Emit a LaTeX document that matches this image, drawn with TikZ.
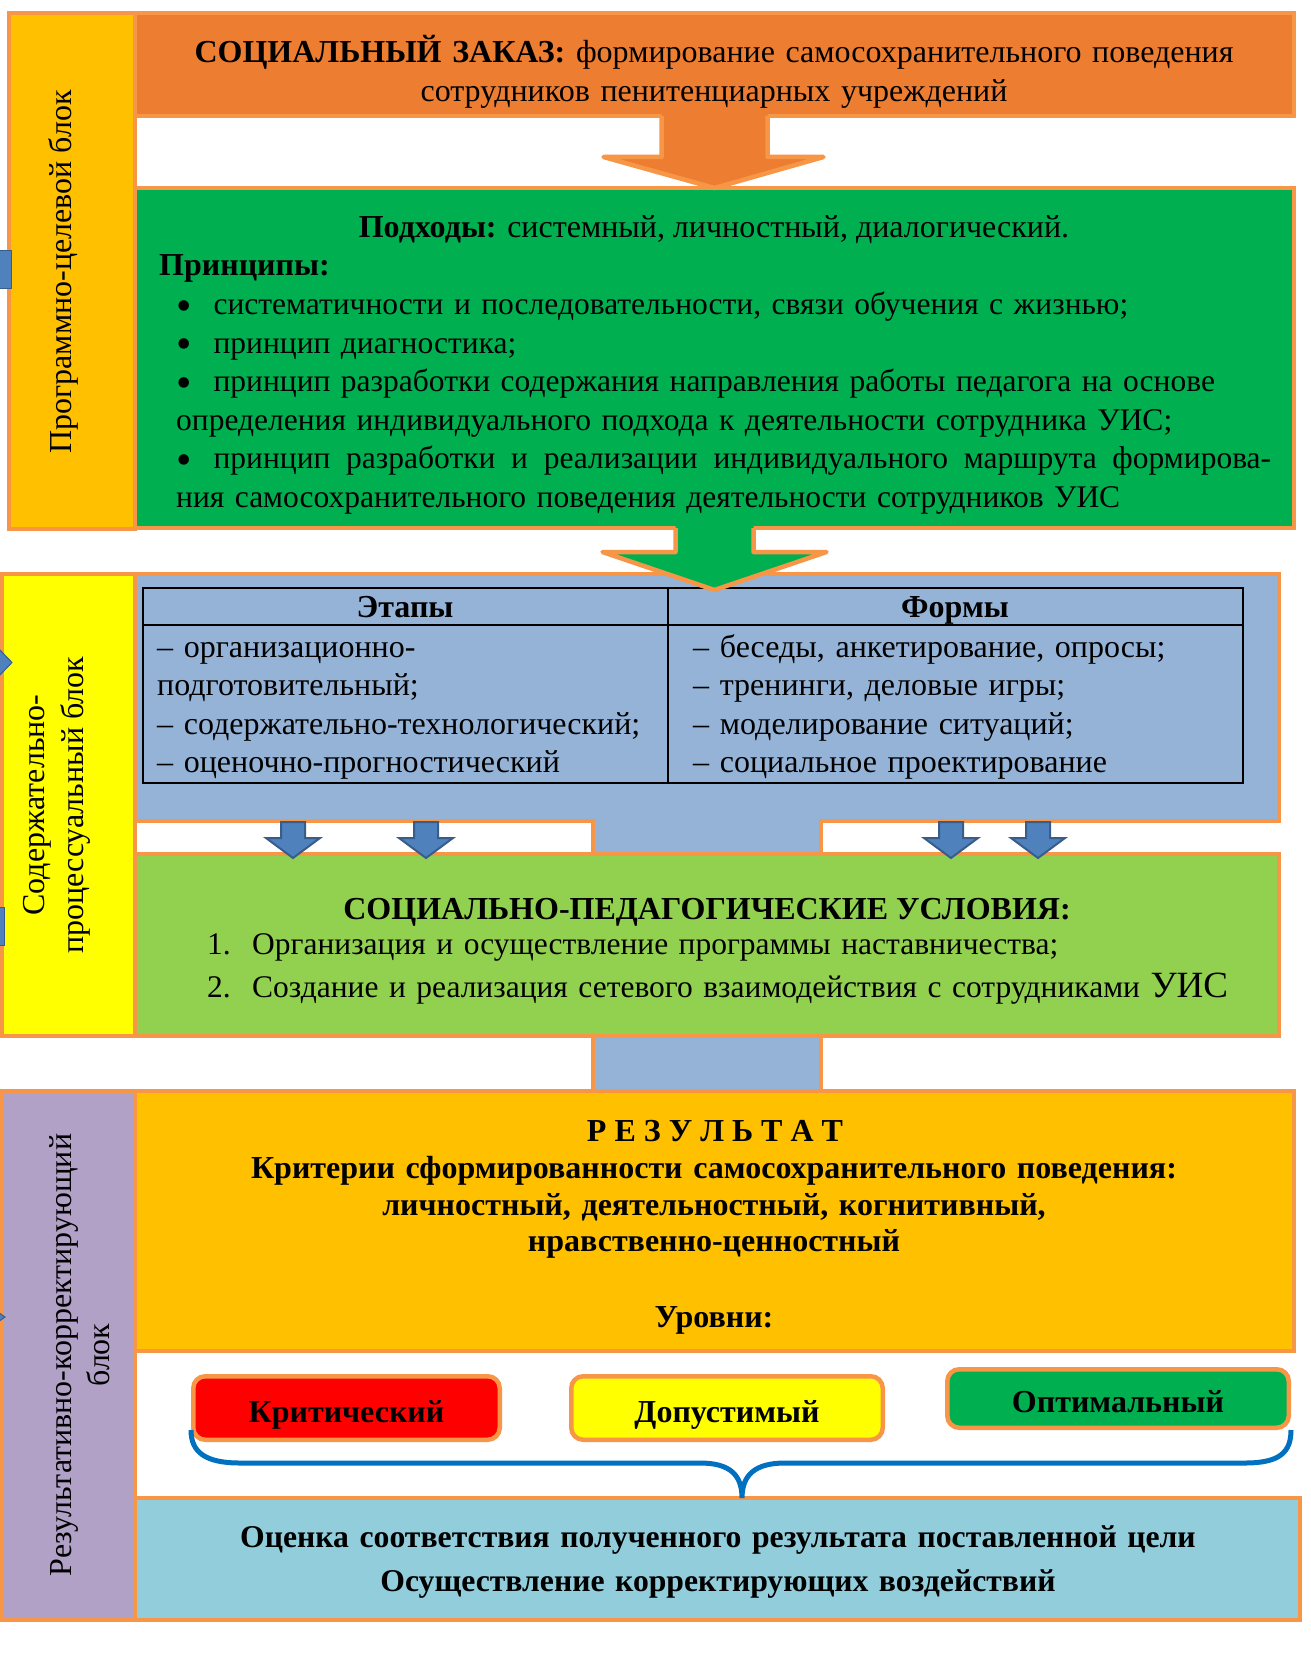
\documentclass[tikz,border=0pt]{standalone}
\usepackage{fontspec}
\setmainfont{Liberation Serif}

\definecolor{orBorder}{HTML}{F79646}
\definecolor{orFill}{HTML}{ED7D31}
\definecolor{gold}{HTML}{FFC000}
\definecolor{grFill}{HTML}{00B050}
\definecolor{ltGreen}{HTML}{92D050}
\definecolor{ylFill}{HTML}{FFFF00}
\definecolor{bluGrey}{HTML}{95B3D7}
\definecolor{purp}{HTML}{B2A1C7}
\definecolor{ltBlue}{HTML}{92CDDC}
\definecolor{arrBlue}{HTML}{4F81BD}
\definecolor{arrDark}{HTML}{385D8A}
\definecolor{braceBlue}{HTML}{0070C0}

\newcommand{\dfont}{\fontsize{32}{38.4}\selectfont}
\newcommand{\bfont}{\fontsize{31.5}{38.4}\selectfont}
\newcommand{\bul}{\smash{\raisebox{-5.5pt}{\fontsize{44}{44}\selectfont•}}\hspace{22pt}}

\tikzset{
  box/.style={draw=orBorder, line width=4.5pt, anchor=north west, inner sep=0pt, outer sep=0pt},
  txt/.style={inner sep=0pt, font=\dfont},
  sidetext/.style={txt, rotate=90, align=center},
  level/.style={draw=orBorder, line width=4.5pt, rounded corners=12pt, inner sep=0pt,
    font=\dfont\bfseries, text height=28pt, text depth=0pt},
  bluearrow/.style={fill=arrBlue, draw=arrDark, line width=2pt},
  downarr/.pic={\draw[bluearrow] (-12,0) -- (12,0) -- (12,16) -- (27,16) -- (0,36) -- (-27,16) -- (-12,16) -- cycle;}
}

\begin{document}
\begin{tikzpicture}[x=1pt, y=-1pt]
\useasboundingbox[fill=white] (0,0) rectangle (1310,1661);

% programme-target block
\node[box, fill=gold, minimum width=126pt, minimum height=516pt] (prog) at (9,13) {};
\node[box, fill=orFill, minimum width=1159pt, minimum height=103pt] (order) at (135,13) {};
\node[box, fill=grFill, minimum width=1159pt, minimum height=340pt] (appr) at (135,188) {};
\node[sidetext] (progtxt) at (63,272) {Программно-целевой блок};

\node[txt, anchor=base, text width=1150pt, align=center] (ordertxt) at (714,63)
  {\textbf{СОЦИАЛЬНЫЙ ЗАКАЗ:} формирование самосохранительного поведения\\
   сотрудников пенитенциарных учреждений};

\fill[orFill] (order.south) ++(-53,-3) -- ++(0,44) -- ++(-58,0) -- (appr.north)
  -- ++(109,-31) -- ++(-56,0) -- ++(0,-44) -- cycle;
\draw[orBorder, line width=4.5pt, line join=round] (order.south) ++(-53,0) -- ++(0,41) -- ++(-58,0)
  -- (appr.north) -- ++(109,-31) -- ++(-56,0) -- ++(0,-41);

\node[txt, anchor=base] (apprtxt) at (714,238)
  {\textbf{Подходы:} системный, личностный, диалогический.};
\node[txt, anchor=base west] (princhead) at (159,276) {\textbf{Принципы:}};
\node[txt, anchor=base west, text width=1095pt, align=left, font=\bfont] (princ) at (176,315)
  {\bul систематичности и последовательности, связи обучения с жизнью;\\
   \bul принцип диагностика;\\
   \bul принцип разработки содержания направления работы педагога на основе\\
   определения индивидуального подхода к деятельности сотрудника УИС;\\
   \leavevmode\hbox to 1095pt{\bul принцип \hfill разработки \hfill и \hfill реализации \hfill
     индивидуального \hfill маршрута \hfill формирова-}\\
   ния самосохранительного поведения деятельности сотрудников УИС};

% content-process block
\draw[orBorder, line width=4.5pt, fill=bluGrey] (135,574) -- (1279,574) -- (1279,821)
  -- (821,821) -- (821,1091) -- (593,1091) -- (593,821) -- (135,821) -- cycle;
\node[box, fill=ylFill, minimum width=133pt, minimum height=462pt] (content) at (2,574) {};
\node[sidetext] (contenttxt) at (57,805) {Содержательно-\\процессуальный блок};

\draw[line width=2pt] (143,588) rectangle (1243,783);
\draw[line width=2pt] (143,625) -- (1243,625) (668,588) -- (668,783);
\node[txt, anchor=base] (stageshead) at (405,617.5) {\textbf{Этапы}};
\node[txt, anchor=base] (formshead) at (955,617.5) {\textbf{Формы}};
\node[txt, anchor=base west, text width=505pt, align=left] (stages) at (157,657.5)
  {– организационно-\\подготовительный;\\– содержательно-технологический;\\– оценочно-прогностический};
\node[txt, anchor=base west, text width=540pt, align=left] (forms) at (693,657.5)
  {– беседы, анкетирование, опросы;\\– тренинги, деловые игры;\\– моделирование ситуаций;\\– социальное проектирование};

\fill[grFill] (appr.south) ++(-39,-3) -- ++(0,27) -- ++(-73,0) -- ++(112,38)
  -- ++(112,-38) -- ++(-73,0) -- ++(0,-27) -- cycle;
\draw[orBorder, line width=4.5pt, line join=round] (appr.south) ++(-39,0) -- ++(0,24) -- ++(-73,0)
  -- ++(112,38) -- ++(112,-38) -- ++(-73,0) -- ++(0,-24);

\node[box, fill=ltGreen, minimum width=1144pt, minimum height=182pt] (cond) at (135,854) {};
\foreach \x in {293,426,951,1038}
  \pic at (\x,822) {downarr};
\node[txt, anchor=base] (condhead) at (707,919) {\textbf{СОЦИАЛЬНО-ПЕДАГОГИЧЕСКИЕ УСЛОВИЯ:}};
\node[txt, anchor=base west, text width=1060pt, align=left,
  font=\fontsize{31.5}{43}\selectfont] (condlist) at (207,954)
  {\makebox[45pt][l]{1.}Организация и осуществление программы наставничества;\\
   \makebox[45pt][l]{2.}Создание и реализация сетевого взаимодействия с сотрудниками {\fontsize{37}{43}\selectfont УИС}};

% result-correction block
\node[box, fill=purp, minimum width=133pt, minimum height=529pt] (resblk) at (2,1091) {};
\node[sidetext] (resblktxt) at (80,1355) {Результативно-корректирующий\\блок};
\node[box, fill=gold, minimum width=1159pt, minimum height=260pt] (result) at (135,1091) {};
\node[txt, anchor=base, font=\dfont\bfseries] (resulthead) at (715,1141) {Р Е З У Л Ь Т А Т};
\node[txt, anchor=base, text width=1150pt, align=center,
  font=\fontsize{32}{36.5}\selectfont\bfseries] (criteria) at (714,1178.5)
  {Критерии сформированности самосохранительного поведения:\\
   личностный, деятельностный, когнитивный,\\нравственно-ценностный};
\node[txt, anchor=base] (levelshead) at (714,1327) {\textbf{Уровни:}};

\node[level, fill=red, minimum width=306.5pt, minimum height=63.5pt] (crit) at (346.5,1408) {Критический};
\node[level, fill=ylFill, minimum width=311.5pt, minimum height=63.5pt] (perm) at (727,1408) {Допустимый};
\node[level, fill=grFill, minimum width=341.5pt, minimum height=58.5pt] (opt) at (1118,1398.5) {Оптимальный};

\node[box, fill=ltBlue, minimum width=1165pt, minimum height=122pt] (eval) at (135,1498) {};
\node[txt, anchor=base, text width=1160pt, align=center,
  font=\fontsize{31.7}{44}\selectfont\bfseries] (evaltxt) at (718,1547)
  {Оценка соответствия полученного результата поставленной цели\\
   Осуществление корректирующих воздействий};

\coordinate (tip) at (742,1498);
\draw[braceBlue, line width=5pt] (crit.west |- opt.south) .. controls (191,1452) and (205,1463) .. (240,1463)
  -- (700,1463) .. controls (730,1463) and (742,1475) .. (tip)
  .. controls (742,1475) and (755,1463) .. (785,1463)
  -- (1245,1463) .. controls (1280,1463) and (1291,1452) .. (opt.south east);

% arrows cut off at the left edge
\draw[bluearrow, line width=1pt] (-2,251) rectangle (11,289);
\draw[bluearrow, line width=1pt] (-2,648) -- (12,662.5) -- (-2,677) -- cycle;
\draw[bluearrow, line width=1pt] (-2,907) rectangle (4,945);
\draw[bluearrow, line width=1pt] (-2,1312) -- (5,1317) -- (-2,1322) -- cycle;
\end{tikzpicture}
\end{document}
